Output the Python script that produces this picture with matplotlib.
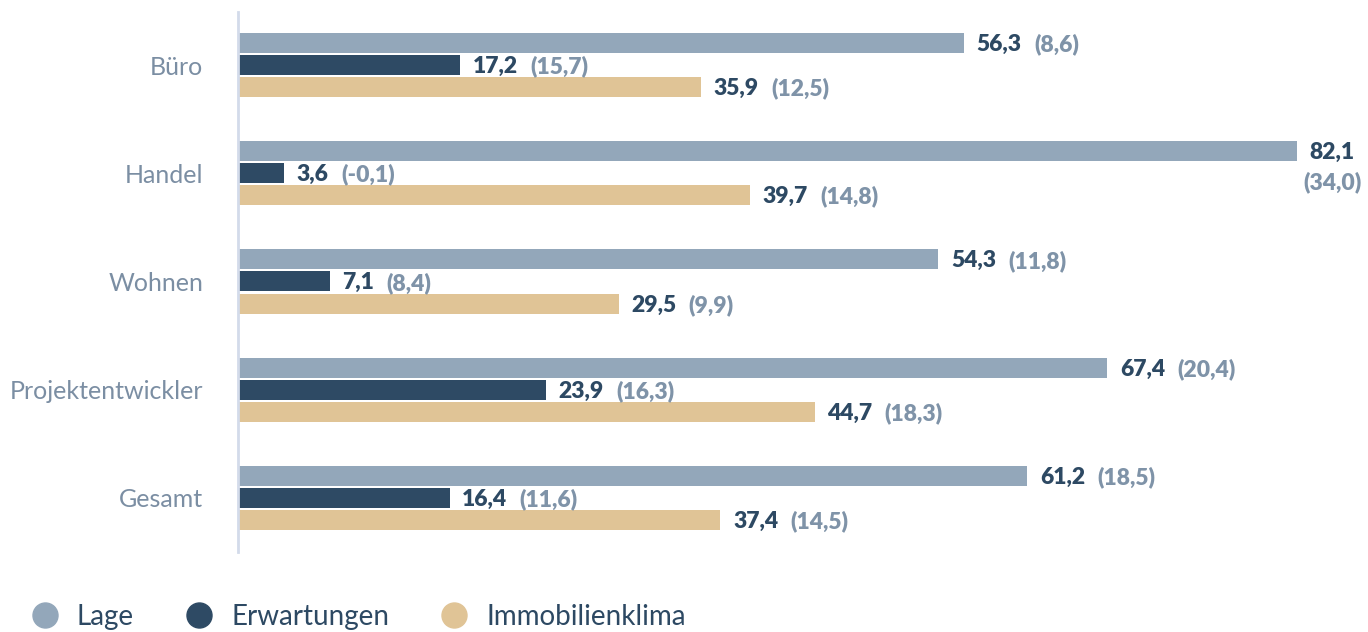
import matplotlib
matplotlib.use("Agg")
import matplotlib.pyplot as plt
from matplotlib.lines import Line2D

plt.rcParams["font.family"] = ["Lato", "DejaVu Sans"]

categories = ["Büro", "Handel", "Wohnen", "Projektentwickler", "Gesamt"]
series = ["Lage", "Erwartungen", "Immobilienklima"]
lage = [56.3, 82.1, 54.3, 67.4, 61.2]
lage_chg = [8.6, 34.0, 11.8, 20.4, 18.5]
erw = [17.2, 3.6, 7.1, 23.9, 16.4]
erw_chg = [15.7, -0.1, 8.4, 16.3, 11.6]
immo = [35.9, 39.7, 29.5, 44.7, 37.4]
immo_chg = [12.5, 14.8, 9.9, 18.3, 14.5]

colors = ["#93a7ba", "#2e4a64", "#e0c496"]
value_color = "#2d4963"
chg_color = "#7f93a8"
label_color = "#7b8ea3"


def fmt(v):
    return f"{v:.1f}".replace(".", ",")


fig = plt.figure(figsize=(13.68, 6.32), dpi=100)
ax = fig.add_axes([238 / 1368, 80 / 632, 1 - 238 / 1368, 540 / 632])

ys = list(range(len(categories)))
offset, height = 0.204, 0.185
groups = [(lage, lage_chg), (erw, erw_chg), (immo, immo_chg)]

for i, (vals, chgs) in enumerate(groups):
    pos = [y + (i - 1) * offset for y in ys]
    ax.barh(pos, vals, height=height, color=colors[i], linewidth=0)
    for p, v, c in zip(pos, vals, chgs):
        t = ax.annotate(fmt(v), (v, p), xytext=(9, -1), textcoords="offset points",
                        va="center", ha="left", fontsize=16.5, fontweight="heavy",
                        color=value_color)
        if v > 80:
            # no room on the right: put the change below the value
            ax.annotate(f"({fmt(c)})", xy=(0.5, 0), xycoords=t, xytext=(0, -6),
                        textcoords="offset points", va="top", ha="center",
                        fontsize=16.5, fontweight="heavy", color=chg_color)
        else:
            ax.annotate(f"({fmt(c)})", xy=(1, 0.5), xycoords=t, xytext=(9, 0),
                        textcoords="offset points", va="center", ha="left",
                        fontsize=16.5, fontweight="heavy", color=chg_color)

ax.set_xlim(0, (1368 - 238) / 12.9)
ax.set_ylim(4.5, -0.49)
ax.set_yticks(ys)
ax.set_yticklabels(categories, fontsize=18, color=label_color)
ax.tick_params(axis="y", length=0, pad=25)
ax.set_xticks([])
for s in ["top", "right", "bottom"]:
    ax.spines[s].set_visible(False)
ax.spines["left"].set_color("#d3dbea")
ax.spines["left"].set_linewidth(2)

handles = [Line2D([], [], marker="o", linestyle="", markersize=18,
                  markerfacecolor=c, markeredgecolor=c) for c in colors]
fig.legend(handles, series, loc="center left", bbox_to_anchor=(31 / 1368, 1 - 617 / 632),
           ncol=3, frameon=False, fontsize=20, labelcolor=value_color,
           borderaxespad=0, borderpad=0, handlelength=1.0,
           handletextpad=0.65, columnspacing=1.85)

fig.savefig("out.png", dpi=100)
